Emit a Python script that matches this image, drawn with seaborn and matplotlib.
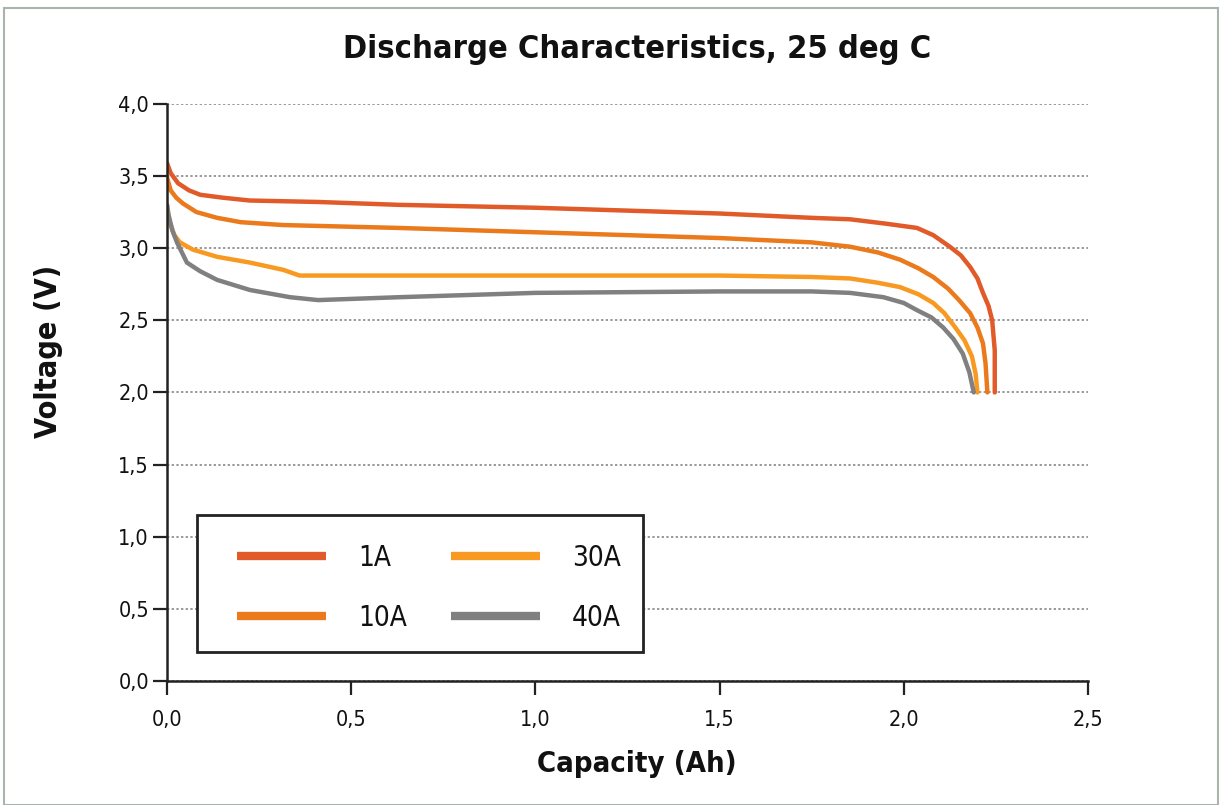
import matplotlib
matplotlib.use("Agg")
import matplotlib.pyplot as plt
import matplotlib.ticker as mticker
import pandas as pd
import seaborn as sns
from matplotlib.patches import Rectangle

# Discharge curves (capacity in Ah, voltage in V)
cap_1a = [0.0, 0.01, 0.03, 0.06, 0.09, 0.15, 0.225, 0.41, 0.63, 1.0, 1.5, 1.75, 1.854,
          1.95, 2.036, 2.08, 2.125, 2.155, 2.18, 2.20, 2.215, 2.23, 2.24, 2.247, 2.247]
volt_1a = [3.59, 3.52, 3.45, 3.40, 3.37, 3.35, 3.33, 3.32, 3.30, 3.28, 3.24, 3.21, 3.20,
           3.17, 3.14, 3.09, 3.01, 2.95, 2.87, 2.79, 2.69, 2.60, 2.50, 2.29, 2.00]

cap_10a = [0.0, 0.01, 0.025, 0.043, 0.08, 0.136, 0.2, 0.315, 0.63, 1.0, 1.5, 1.75, 1.854,
           1.93, 1.99, 2.04, 2.08, 2.12, 2.15, 2.18, 2.20, 2.215, 2.222, 2.227]
volt_10a = [3.49, 3.40, 3.35, 3.31, 3.25, 3.21, 3.18, 3.16, 3.14, 3.11, 3.07, 3.04, 3.01,
            2.97, 2.92, 2.86, 2.80, 2.72, 2.64, 2.55, 2.45, 2.34, 2.20, 2.00]

cap_30a = [0.0, 0.008, 0.02, 0.035, 0.07, 0.136, 0.225, 0.315, 0.36, 0.63, 1.0, 1.5,
           1.75, 1.854, 1.93, 1.99, 2.04, 2.08, 2.11, 2.14, 2.165, 2.185, 2.195, 2.20]
volt_30a = [3.30, 3.17, 3.09, 3.04, 2.99, 2.94, 2.90, 2.85, 2.81, 2.81, 2.81, 2.81,
            2.80, 2.79, 2.76, 2.73, 2.68, 2.62, 2.55, 2.45, 2.36, 2.25, 2.13, 2.00]

cap_40a = [0.0, 0.003, 0.015, 0.027, 0.054, 0.09, 0.136, 0.225, 0.334, 0.41, 0.63, 1.0,
           1.5, 1.75, 1.854, 1.945, 2.0, 2.036, 2.075, 2.107, 2.135, 2.16, 2.178, 2.19]
volt_40a = [3.30, 3.24, 3.12, 3.04, 2.90, 2.84, 2.78, 2.71, 2.66, 2.64, 2.66, 2.69,
            2.70, 2.70, 2.69, 2.66, 2.62, 2.57, 2.52, 2.45, 2.37, 2.27, 2.14, 2.00]

series_labels = ["1A", "10A", "30A", "40A"]
series_colors = ["#E15B2A", "#EA7A1B", "#F89A22", "#808080"]
x_ticks = [0.0, 0.5, 1.0, 1.5, 2.0, 2.5]
y_ticks = [0.0, 0.5, 1.0, 1.5, 2.0, 2.5, 3.0, 3.5, 4.0]

frames = []
for label, caps, volts in zip(series_labels,
                              [cap_1a, cap_10a, cap_30a, cap_40a],
                              [volt_1a, volt_10a, volt_30a, volt_40a]):
    frames.append(pd.DataFrame({"Capacity": caps, "Voltage": volts, "Current": label}))
df = pd.concat(frames, ignore_index=True)

sns.set_theme(style="white")
plt.rcParams["font.family"] = ["DejaVu Sans"]
plt.rcParams["font.stretch"] = "condensed"
plt.rcParams["text.color"] = "#111111"
plt.rcParams["axes.labelcolor"] = "#111111"
plt.rcParams["xtick.color"] = "#111111"
plt.rcParams["ytick.color"] = "#111111"

fig = plt.figure(figsize=(12.19, 8.05), dpi=100)
ax = fig.add_axes([0.137, 0.154, 0.7555, 0.717])

sns.lineplot(
    data=df,
    x="Capacity",
    y="Voltage",
    hue="Current",
    hue_order=series_labels,
    palette=dict(zip(series_labels, series_colors)),
    estimator=None,
    sort=False,
    linewidth=3.2,
    ax=ax,
)

ax.set_xlim(0, 2.5)
ax.set_ylim(0, 4.0)
ax.set_xticks(x_ticks)
ax.set_yticks(y_ticks)
comma_fmt = mticker.FuncFormatter(lambda v, pos: f"{v:.1f}".replace(".", ","))
ax.xaxis.set_major_formatter(comma_fmt)
ax.yaxis.set_major_formatter(comma_fmt)

ax.yaxis.grid(True, linestyle=(0, (1.2, 1.2)), color="#9a9a9a", linewidth=1.4)
ax.xaxis.grid(False)
ax.set_axisbelow(True)

for side in ["top", "right"]:
    ax.spines[side].set_visible(False)
for side in ["left", "bottom"]:
    ax.spines[side].set_color("#222222")
    ax.spines[side].set_linewidth(1.8)

ax.tick_params(axis="both", which="major", direction="out", length=10, width=1.6,
               color="#222222", labelsize=15.5, left=True, bottom=True)
ax.tick_params(axis="x", pad=11)
ax.tick_params(axis="y", pad=3)

ax.set_title("Discharge Characteristics, 25 deg C", fontsize=23.4, fontweight="bold",
             pad=33, x=0.51)
ax.set_xlabel("Capacity (Ah)", fontsize=21, fontweight="bold")
ax.set_ylabel("Voltage (V)", fontsize=22, fontweight="bold")
ax.xaxis.set_label_coords(0.51, -0.119)
ax.yaxis.set_label_coords(-0.113, 0.572)

# legend box drawn separately so the entries can sit inset like the original
ax.add_patch(Rectangle((0.033, 0.05), 0.484, 0.238, transform=ax.transAxes,
                       facecolor="white", edgecolor="#222222", linewidth=2.0,
                       zorder=4))

handles, labels = ax.get_legend_handles_labels()
leg = ax.legend(
    handles,
    labels,
    ncol=2,
    loc="lower left",
    bbox_to_anchor=(0.076, 0.085, 0.417, 0.16),
    mode="expand",
    borderaxespad=0.0,
    frameon=False,
    fontsize=20,
    handlelength=3.2,
    handletextpad=1.15,
    columnspacing=1.5,
    labelspacing=1.15,
    borderpad=0.0,
)
leg.set_zorder(5)
for line in leg.get_lines():
    line.set_linewidth(6)
    line.set_solid_capstyle("butt")

fig.patches.append(Rectangle((0.003, 0.0), 0.996, 0.99, transform=fig.transFigure,
                             fill=False, edgecolor="#a9b5ab", linewidth=1.5))

fig.savefig("out.png", dpi=100)
